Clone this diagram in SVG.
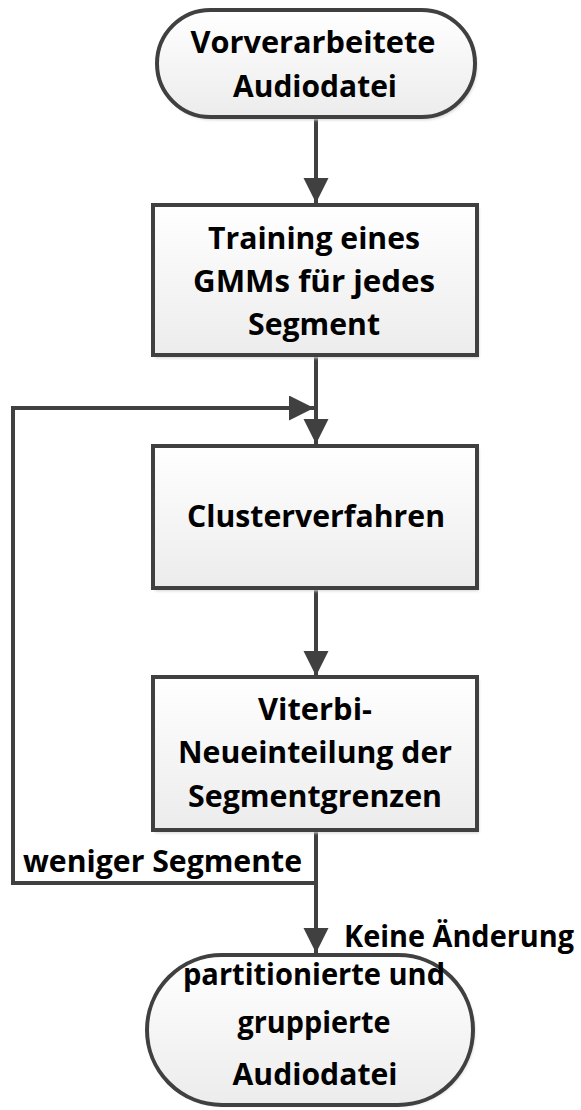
<svg xmlns="http://www.w3.org/2000/svg" width="581" height="1110" viewBox="0 0 581 1110">
<defs>
  <linearGradient id="fillG" x1="0" y1="0" x2="0" y2="1">
    <stop offset="0" stop-color="#ffffff"/>
    <stop offset="1" stop-color="#ececec"/>
  </linearGradient>
  <filter id="sh" x="-10%" y="-10%" width="125%" height="130%">
    <feGaussianBlur stdDeviation="1.5"/>
  </filter>
  <marker id="arr" markerUnits="userSpaceOnUse" markerWidth="26" markerHeight="26" refX="25" refY="12.5" orient="auto">
    <path d="M0,0 L25,12.5 L0,25 z" fill="#404040"/>
  </marker>
</defs>
<style>
  .shape { fill: url(#fillG); stroke: #404040; stroke-width: 4; }
  .shadow { fill: #d6d6d6; filter: url(#sh); }
  .conn { fill: none; stroke: #404040; stroke-width: 4; }
  text { font-family: "Open Sans", Lato, "Liberation Sans", sans-serif; font-weight: bold; font-size: 30px; fill: #000; }
  .c { text-anchor: middle; }
</style>

<g id="connectors">
  <path class="conn" d="M316,117 V203" marker-end="url(#arr)"/>
  <path class="conn" d="M316,355 V444" marker-end="url(#arr)"/>
  <path class="conn" d="M316,588 V676" marker-end="url(#arr)"/>
  <path class="conn" d="M316,830 V953" marker-end="url(#arr)"/>
  <path class="conn" d="M316,883 H13 V408 H314" marker-end="url(#arr)"/>
</g>

<g id="start">
  <rect class="shadow" x="159" y="13" width="318" height="107" rx="53.5"/>
  <rect class="shape" x="157" y="10" width="318" height="107" rx="53.5"/>
  <text class="c" x="313" y="53" textLength="245" lengthAdjust="spacingAndGlyphs">Vorverarbeitete</text>
  <text class="c" x="315" y="97" textLength="164" lengthAdjust="spacingAndGlyphs">Audiodatei</text>
</g>

<g id="training">
  <rect class="shadow" x="155" y="208" width="324" height="150"/>
  <rect class="shape" x="153" y="205" width="324" height="150"/>
  <text class="c" x="314" y="249" textLength="212" lengthAdjust="spacingAndGlyphs">Training eines</text>
  <text class="c" x="314" y="292" textLength="242" lengthAdjust="spacingAndGlyphs">GMMs für jedes</text>
  <text class="c" x="314" y="335" textLength="132" lengthAdjust="spacingAndGlyphs">Segment</text>
</g>

<g id="cluster">
  <rect class="shadow" x="155" y="449" width="324" height="142"/>
  <rect class="shape" x="153" y="446" width="324" height="142"/>
  <text class="c" x="316" y="527" textLength="258" lengthAdjust="spacingAndGlyphs">Clusterverfahren</text>
</g>

<g id="viterbi">
  <rect class="shadow" x="155" y="680" width="324" height="153"/>
  <rect class="shape" x="153" y="677" width="324" height="153"/>
  <text class="c" x="315" y="720" textLength="114" lengthAdjust="spacingAndGlyphs">Viterbi-</text>
  <text class="c" x="315" y="763" textLength="274" lengthAdjust="spacingAndGlyphs">Neueinteilung der</text>
  <text class="c" x="315" y="807" textLength="254" lengthAdjust="spacingAndGlyphs">Segmentgrenzen</text>
</g>

<g id="end">
  <rect class="shadow" x="149" y="958" width="326" height="148" rx="74"/>
  <rect class="shape" x="147" y="955" width="326" height="150" rx="75"/>
  <text class="c" x="314" y="985" textLength="262" lengthAdjust="spacingAndGlyphs">partitionierte und</text>
  <text class="c" x="314" y="1033" textLength="153" lengthAdjust="spacingAndGlyphs">gruppierte</text>
  <text class="c" x="315" y="1085" textLength="165" lengthAdjust="spacingAndGlyphs">Audiodatei</text>
</g>

<g id="labels">
  <text x="23" y="872" textLength="279" lengthAdjust="spacingAndGlyphs">weniger Segmente</text>
  <text x="344" y="947" textLength="230" lengthAdjust="spacingAndGlyphs">Keine Änderung</text>
</g>
</svg>
